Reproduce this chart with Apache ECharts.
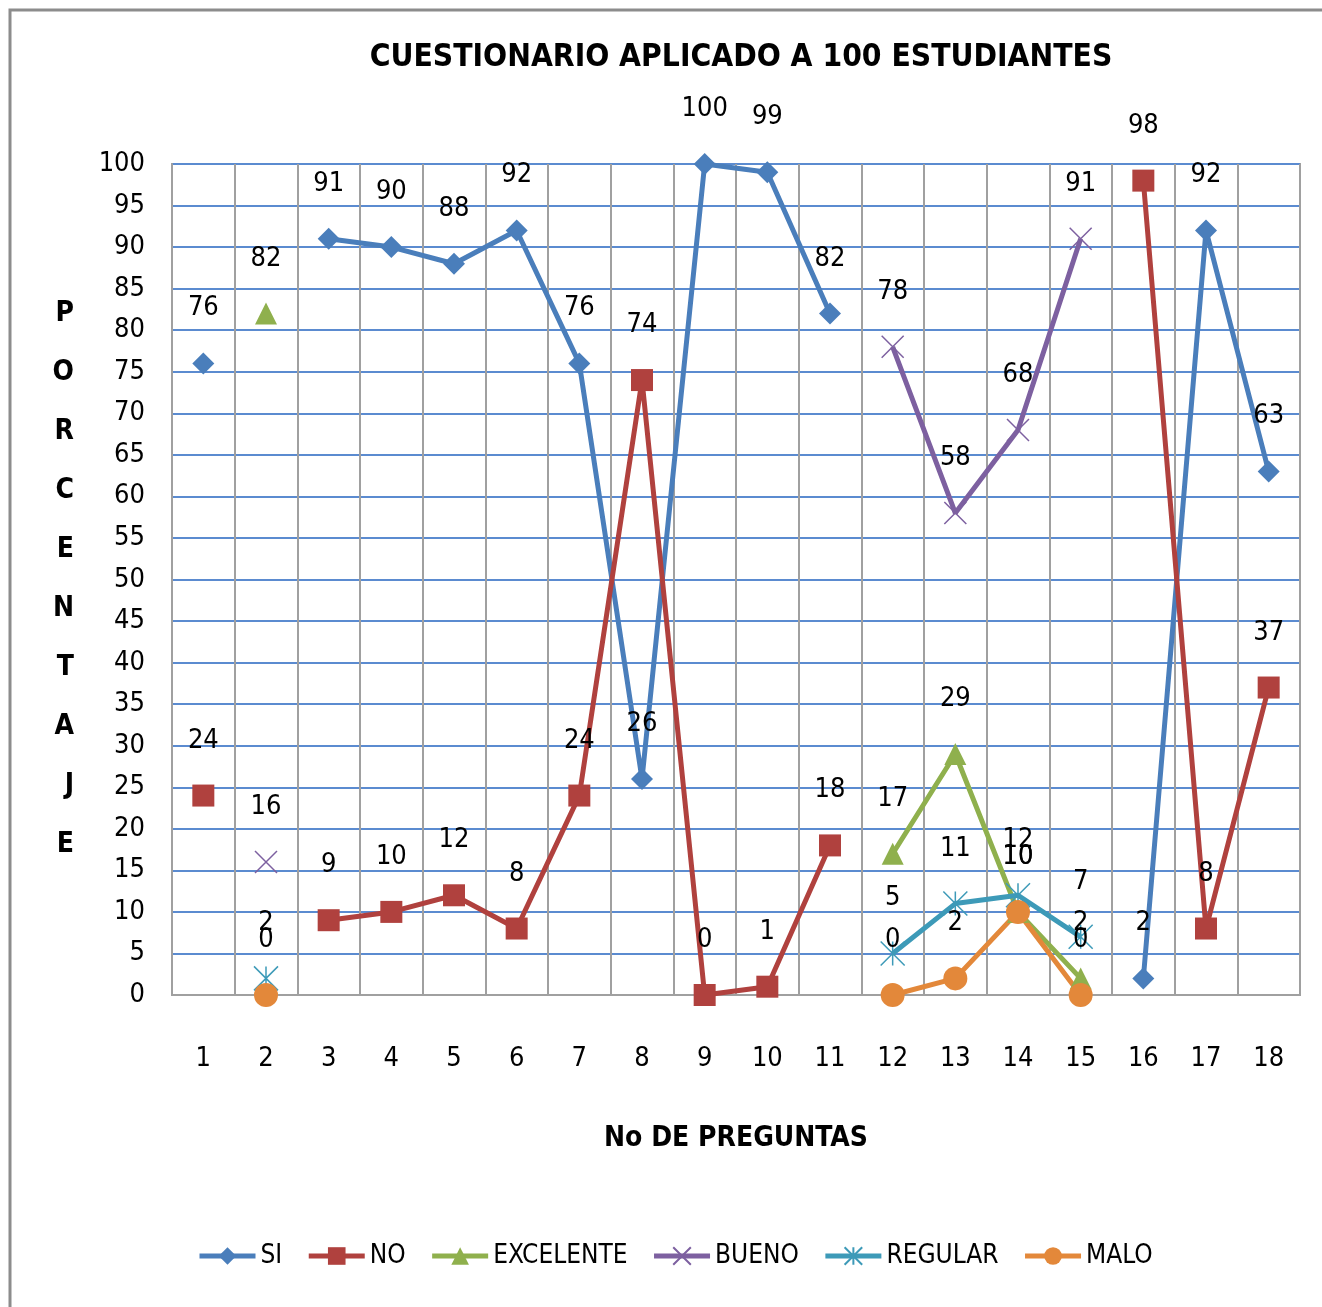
<!DOCTYPE html>
<html>
<head>
<meta charset="utf-8">
<script src="https://cdn.jsdelivr.net/npm/echarts@6/dist/echarts.min.js"></script>
<style>
  html, body { margin: 0; padding: 0; background: #fff; }
  #chart { width: 1322px; height: 1307px; }
</style>
</head>
<body>
<div id="chart"></div>
<script>
// preguntas 1..18
const preguntas = ["1", "2", "3", "4", "5", "6", "7", "8", "9", "10", "11", "12", "13", "14", "15", "16", "17", "18"];
const si        = [76, null, 91, 90, 88, 92, 76, 26, 100, 99, 82, null, null, null, null, 2, 92, 63];
const no        = [24, null, 9, 10, 12, 8, 24, 74, 0, 1, 18, null, null, null, null, 98, 8, 37];
const excelente = [null, 82, null, null, null, null, null, null, null, null, null, 17, 29, 10, 2, null, null, null];
const bueno     = [null, 16, null, null, null, null, null, null, null, null, null, 78, 58, 68, 91, null, null, null];
const regular   = [null, 2, null, null, null, null, null, null, null, null, null, 5, 11, 12, 7, null, null, null];
const malo      = [null, 0, null, null, null, null, null, null, null, null, null, 0, 2, 10, 0, null, null, null];

const FONT = "'Liberation Sans Narrow', 'DejaVu Sans Condensed', sans-serif";
const X_SYMBOL = "path://M0,0L10,10M10,0L0,10";
const STAR_SYMBOL = "path://M5,0L5,10M0,0L10,10M10,0L0,10";

function makeSeries(name, data, color, symbol, size, hollow) {
  return {
    name: name,
    type: "line",
    data: data,
    connectNulls: false,
    symbol: symbol,
    symbolSize: size,
    showAllSymbol: true,
    lineStyle: { color: color, width: 5 },
    itemStyle: hollow
      ? { color: "rgba(0,0,0,0)", borderColor: color, borderWidth: 1.5 }
      : { color: color },
    label: {
      show: true,
      position: "inside",
      offset: [0, -55],
      color: "#000",
      fontFamily: FONT,
      fontSize: 27
    },
    emphasis: { disabled: true },
    animation: false
  };
}

const myChart = echarts.init(document.getElementById("chart"));
myChart.setOption({
  backgroundColor: "#fff",
  title: {
    text: "CUESTIONARIO APLICADO A 100 ESTUDIANTES",
    left: 736,
    textAlign: "center",
    top: 37,
    textStyle: { fontFamily: FONT, fontSize: 31.5, fontWeight: "bold", color: "#000" }
  },
  graphic: [
    {
      type: "rect",
      shape: { x: 10, y: 10, width: 1340, height: 1340 },
      style: { fill: "none", stroke: "#8c8c8c", lineWidth: 3 },
      silent: true
    }
  ],
  legend: {
    left: 192,
    top: 1238,
    itemWidth: 56,
    itemHeight: 22,
    itemGap: 24,
    lineStyle: { width: 5 },
    textStyle: { fontFamily: FONT, fontSize: 26, color: "#000" },
    data: ["SI", "NO", "EXCELENTE", "BUENO", "REGULAR", "MALO"]
  },
  grid: {
    left: 172,
    right: 22,
    top: 164,
    bottom: 312,
    show: true,
    borderColor: "#a0a0a0",
    borderWidth: 2
  },
  xAxis: {
    type: "category",
    data: preguntas,
    boundaryGap: true,
    name: "No DE PREGUNTAS",
    nameLocation: "middle",
    nameGap: 130,
    nameTextStyle: { fontFamily: FONT, fontSize: 28, fontWeight: "bold", color: "#000" },
    axisLine: { show: true, lineStyle: { color: "#a0a0a0", width: 2 } },
    axisTick: { show: false },
    axisLabel: { margin: 50, fontFamily: FONT, fontSize: 27, color: "#000" },
    splitLine: { show: true, lineStyle: { color: "#a0a0a0", width: 2 } }
  },
  yAxis: {
    type: "value",
    min: 0,
    max: 100,
    interval: 5,
    name: "P\nO\nR\nC\nE\nN\nT\nA\nJ\nE",
    nameLocation: "middle",
    nameRotate: 0,
    nameGap: 98,
    nameTextStyle: { fontFamily: FONT, fontSize: 28, fontWeight: "bold", color: "#000", lineHeight: 59 },
    axisLine: { show: true, lineStyle: { color: "#a0a0a0", width: 2 } },
    axisTick: { show: false },
    axisLabel: { margin: 27, fontFamily: FONT, fontSize: 27, color: "#000" },
    splitLine: { show: true, lineStyle: { color: "#5b8bd0", width: 2 } }
  },
  series: [
    makeSeries("SI", si, "#4a7ebb", "diamond", 22, false),
    makeSeries("NO", no, "#b0413e", "rect", 22, false),
    makeSeries("EXCELENTE", excelente, "#8fb04d", "triangle", 22, false),
    makeSeries("BUENO", bueno, "#7d60a0", X_SYMBOL, 22, true),
    makeSeries("REGULAR", regular, "#3d9ab8", STAR_SYMBOL, 24, true),
    makeSeries("MALO", malo, "#e3883a", "circle", 24, false)
  ]
});
</script>
</body>
</html>
